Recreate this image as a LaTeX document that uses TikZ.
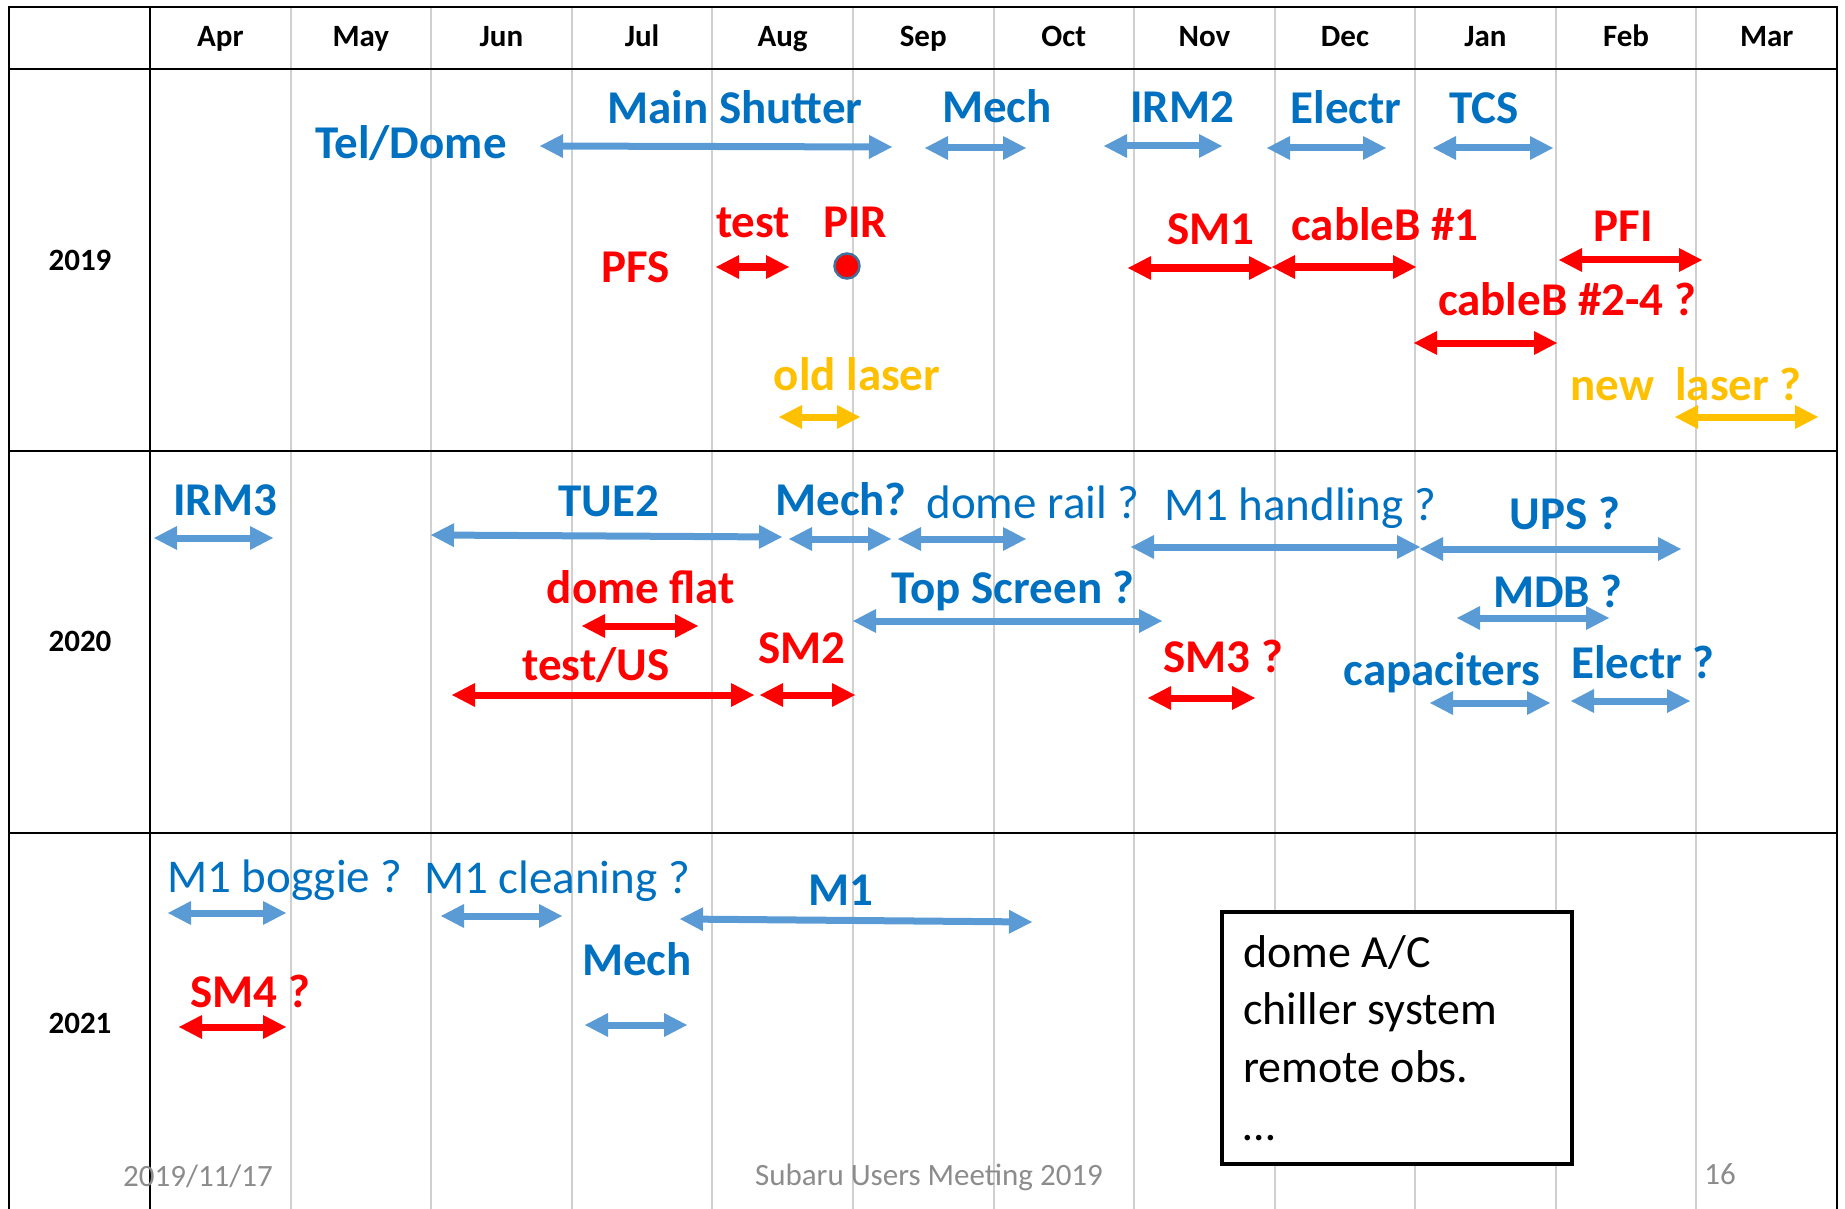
\documentclass[tikz,border=0pt]{standalone}
\usepackage{fontspec}
\setmainfont{Carlito}
\usetikzlibrary{arrows.meta}

\definecolor{labblue}{HTML}{0070C0}
\definecolor{barblue}{HTML}{5B9BD5}
\definecolor{labred}{HTML}{FF0000}
\definecolor{labgold}{HTML}{FFC000}
\definecolor{gridgray}{HTML}{D0D0D0}
\definecolor{footgray}{HTML}{8C8C8C}
\definecolor{dotrim}{HTML}{41719C}

\begin{document}
\begin{tikzpicture}[x=1pt,y=-1pt,
  >={Triangle[length=23pt,width=24pt,line width=0pt]},
  head/.style={anchor=base,inner sep=0pt,font=\fontsize{31}{37}\selectfont\bfseries},
  lab/.style={anchor=base,inner sep=0pt,font=\fontsize{47}{56}\selectfont\bfseries},
  labreg/.style={anchor=base,inner sep=0pt,text=labblue,font=\fontsize{47}{56}\selectfont},
  bluelab/.style={lab,text=labblue},
  redlab/.style={lab,text=labred},
  goldlab/.style={lab,text=labgold},
  note/.style={anchor=base west,inner sep=0pt,font=\fontsize{46}{56}\selectfont},
  foot/.style={anchor=base,inner sep=0pt,text=footgray,font=\fontsize{31}{37}\selectfont},
  span/.style={<->,line width=7pt},
  bluespan/.style={span,barblue},
  redspan/.style={span,labred},
  goldspan/.style={span,labgold}]
\useasboundingbox (0,0) rectangle (1845,1209);

\draw[gridgray,line width=2pt]
  (290.6,7) -- (290.6,1209) (431.2,7) -- (431.2,1209)
  (571.7,7) -- (571.7,1209) (712.3,7) -- (712.3,1209)
  (852.9,7) -- (852.9,1209) (993.5,7) -- (993.5,1209)
  (1134.1,7) -- (1134.1,1209) (1274.6,7) -- (1274.6,1209)
  (1415.2,7) -- (1415.2,1209) (1555.8,7) -- (1555.8,1209)
  (1696.4,7) -- (1696.4,1209);
\draw[line width=2.2pt]
  (9,1209) -- (9,7) -- (1837,7) -- (1837,1209)
  (150,7) -- (150,1209)
  (9,69.3) -- (1837,69.3)
  (9,450.7) -- (1837,450.7)
  (9,832.7) -- (1837,832.7);

\node[head] (apr) at (220.3,47) {Apr};
\node[head] (may) at (360.9,47) {May};
\node[head] (jun) at (501.5,47) {Jun};
\node[head] (jul) at (642.0,47) {Jul};
\node[head] (aug) at (782.6,47) {Aug};
\node[head] (sep) at (923.2,47) {Sep};
\node[head] (oct) at (1063.8,47) {Oct};
\node[head] (nov) at (1204.4,47) {Nov};
\node[head] (dec) at (1345.0,47) {Dec};
\node[head] (jan) at (1485.5,47) {Jan};
\node[head] (feb) at (1626.1,47) {Feb};
\node[head] (mar) at (1766.7,47) {Mar};

\node[head] (y2019) at (80,270.7) {2019};
\node[head] (y2020) at (80,651.7) {2020};
\node[head] (y2021) at (80,1033) {2021};

\node[bluelab] (teldome) at (411,159) {Tel/Dome};
\node[bluelab] (shutter) at (735,124) {Main Shutter};
\node[bluelab] (mech) at (997,123) {Mech};
\node[bluelab] (irm2) at (1182,123) {IRM2};
\node[bluelab] (electr) at (1346,124) {Electr};
\node[bluelab] (tcs) at (1484,124) {TCS};
\draw[bluespan] (540,146) -- (892,147);
\draw[bluespan] (925,148) -- (1026,148);
\draw[bluespan] (1104,146) -- (1222,146);
\draw[bluespan] (1267,148) -- (1386,148);
\draw[bluespan] (1433,148) -- (1553,148);

\node[redlab] (pfs) at (636,282) {PFS};
\node[redlab] (test) at (753,238) {test};
\node[redlab] (pir) at (855,237) {PIR};
\node[redlab] (sm1) at (1211,245) {SM1};
\node[redlab] (cableb) at (1385,241) {cableB \#1};
\node[redlab] (pfi) at (1623,242) {PFI};
\node[redlab] (cablebb) at (1567,315) {cableB \#2-4 ?};
\draw[redspan] (716,267) -- (789,267);
\draw[redspan] (1128,268) -- (1272,268);
\draw[redspan] (1272,267) -- (1416,267);
\draw[redspan] (1559,260) -- (1702,260);
\draw[redspan] (1414,343) -- (1557,343);
\draw[fill=labred,draw=dotrim,line width=2.5pt] (847,266) circle (12.5);

\node[goldlab] (oldlaser) at (857,390) {old laser};
\node[goldlab] (newlaser) at (1686,400) {new\ \ laser ?};
\draw[goldspan] (779,417) -- (860,417);
\draw[goldspan] (1675,417) -- (1818,417);

\node[bluelab] (irm3) at (225,515) {IRM3};
\node[bluelab] (tue2) at (609,516) {TUE2};
\node[bluelab] (mechq) at (841,515) {Mech?};
\node[labreg] (domerail) at (1033,518) {dome rail ?};
\node[labreg] (handling) at (1300,520) {M1 handling ?};
\node[bluelab] (ups) at (1565,529) {UPS ?};
\node[bluelab] (topscreen) at (1013,603) {Top Screen ?};
\node[bluelab] (mdb) at (1558,607) {MDB ?};
\node[bluelab] (capaciters) at (1442,685) {capaciters};
\node[bluelab] (electrq) at (1643,678) {Electr ?};
\draw[bluespan] (154,538) -- (273,538);
\draw[bluespan] (431,535) -- (782,537);
\draw[bluespan] (789,539) -- (891,539);
\draw[bluespan] (898,539) -- (1026,539);
\draw[bluespan] (1131,547) -- (1420,547);
\draw[bluespan] (1420,549) -- (1681,549);
\draw[bluespan] (853,621) -- (1162,621);
\draw[bluespan] (1457,618) -- (1609,618);
\draw[bluespan] (1430,703) -- (1550,703);
\draw[bluespan] (1571,701) -- (1690,701);

\node[redlab] (domeflat) at (641,603) {dome flat};
\node[redlab] (testus) at (596,680) {test/US};
\node[redlab] (sm2) at (802,663) {SM2};
\node[redlab] (sm3) at (1223,672) {SM3 ?};
\draw[redspan] (582,626) -- (698,626);
\draw[redspan] (452,695) -- (754,695);
\draw[redspan] (760,695) -- (855,695);
\draw[redspan] (1148,698) -- (1255,698);

\node[labreg] (boggie) at (285,892) {M1 boggie ?};
\node[labreg] (cleaning) at (557,893) {M1 cleaning ?};
\node[bluelab] (m1) at (841,905) {M1};
\node[bluelab] (mechb) at (637,975) {Mech};
\node[redlab] (sm4) at (250,1007) {SM4 ?};
\draw[bluespan] (168,913) -- (286,913);
\draw[bluespan] (441,916) -- (562,916);
\draw[bluespan] (680,919) -- (1032,922);
\draw[bluespan] (585,1025) -- (687,1025);
\draw[redspan] (179,1027) -- (286,1027);

\draw[line width=3.5pt,fill=white] (1222,912) rectangle (1572,1164);
\node[note] (domeac) at (1243,967) {dome A/C};
\node[note] (chiller) at (1243,1024) {chiller system};
\node[note] (remote) at (1243,1082) {remote obs.};
\node[note] (more) at (1243,1140) {…};

\node[foot] (date) at (198,1186) {2019/11/17};
\node[foot] (meeting) at (929,1185) {Subaru Users Meeting 2019};
\node[foot] (page) at (1720,1184) {16};
\end{tikzpicture}
\end{document}
